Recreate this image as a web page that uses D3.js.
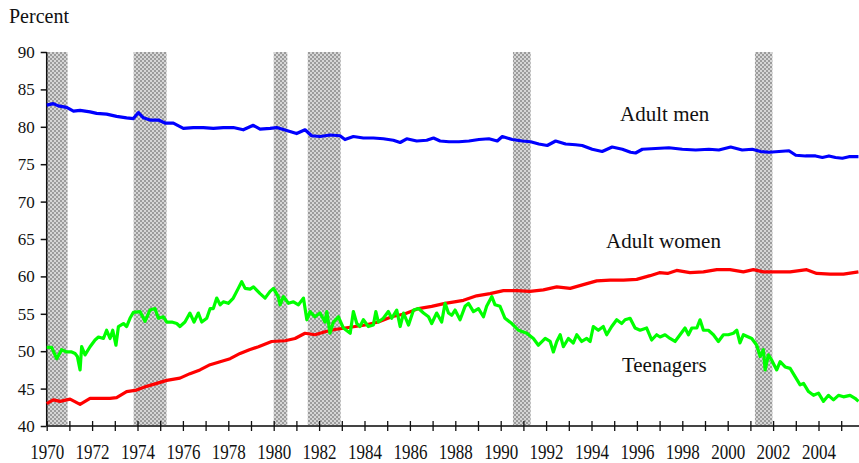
<!DOCTYPE html>
<html lang="en">
<head>
<meta charset="UTF-8">
<title>Labor force participation</title>
<script src="https://cdn.jsdelivr.net/npm/d3@7"></script>
<style>
  body { margin: 0; background: #fff; }
  svg { display: block; font-family: "Liberation Serif", "Times New Roman", serif; }
</style>
</head>
<body>
<div id="chart"></div>
<script>

// recession periods (decimal years)
var recessions = [[1969.92, 1970.92], [1973.83, 1975.28], [1980.0, 1980.6],
                  [1981.5, 1982.95], [1990.54, 1991.32], [2001.2, 2001.97]];

var yTicks = [40, 45, 50, 55, 60, 65, 70, 75, 80, 85, 90];

// [year, percent]
var adultMen = [
  [1970.0, 82.9], [1970.29, 83.1], [1970.51, 82.8], [1970.88, 82.6], [1971.18, 82.1],
  [1971.47, 82.2], [1971.91, 82.0], [1972.2, 81.8], [1972.64, 81.7], [1973.08, 81.4],
  [1973.52, 81.2], [1973.82, 81.1], [1974.04, 81.9], [1974.26, 81.2], [1974.55, 80.9],
  [1974.92, 80.9], [1975.21, 80.5], [1975.58, 80.5], [1976.02, 79.8], [1976.46, 79.9],
  [1976.9, 79.9], [1977.34, 79.8], [1977.78, 79.9], [1978.22, 79.9], [1978.66, 79.6],
  [1979.1, 80.2], [1979.4, 79.7], [1979.84, 79.8], [1980.13, 79.9], [1980.57, 79.5],
  [1981.01, 79.1], [1981.38, 79.6], [1981.67, 78.8], [1982.04, 78.7], [1982.48, 78.9],
  [1982.92, 78.8], [1983.14, 78.3], [1983.51, 78.7], [1983.95, 78.5], [1984.39, 78.5],
  [1984.83, 78.4], [1985.27, 78.2], [1985.57, 77.9], [1985.86, 78.4], [1986.3, 78.1],
  [1986.74, 78.2], [1987.04, 78.5], [1987.33, 78.1], [1987.72, 78.0], [1988.16, 78.0],
  [1988.6, 78.1], [1989.04, 78.3], [1989.48, 78.4], [1989.85, 78.1], [1990.07, 78.7],
  [1990.51, 78.3], [1990.95, 78.1], [1991.32, 78.0], [1991.68, 77.7], [1992.05, 77.5],
  [1992.42, 78.1], [1992.86, 77.7], [1993.3, 77.6], [1993.59, 77.5], [1994.03, 77.0],
  [1994.47, 76.7], [1994.91, 77.3], [1995.36, 77.0], [1995.72, 76.6], [1995.94, 76.5],
  [1996.24, 77.0], [1996.82, 77.1], [1997.41, 77.2], [1998.0, 77.0], [1998.59, 76.9],
  [1999.17, 77.0], [1999.61, 76.9], [2000.13, 77.3], [2000.64, 76.9], [2001.08, 77.0],
  [2001.45, 76.7], [2001.82, 76.6], [2002.26, 76.7], [2002.7, 76.8], [2003.0, 76.2],
  [2003.43, 76.1], [2003.87, 76.1], [2004.17, 75.9], [2004.46, 76.1], [2004.75, 75.9],
  [2005.05, 75.8], [2005.34, 76.0], [2005.76, 76.0]
];

var adultWomen = [
  [1970.0, 43.0], [1970.29, 43.5], [1970.59, 43.3], [1971.03, 43.6], [1971.47, 42.9],
  [1971.91, 43.7], [1972.35, 43.7], [1972.79, 43.7], [1973.08, 43.8], [1973.52, 44.6],
  [1973.96, 44.8], [1974.4, 45.3], [1974.85, 45.7], [1975.29, 46.1], [1975.87, 46.4],
  [1976.31, 47.0], [1976.75, 47.5], [1977.2, 48.2], [1977.64, 48.6], [1978.08, 49.0],
  [1978.52, 49.7], [1978.93, 50.2], [1979.33, 50.6], [1979.91, 51.3], [1980.5, 51.4],
  [1980.94, 51.7], [1981.38, 52.4], [1981.82, 52.2], [1982.26, 52.6], [1982.7, 52.9],
  [1983.15, 53.1], [1983.59, 53.3], [1984.03, 53.5], [1984.61, 53.9], [1985.2, 54.6],
  [1985.79, 55.0], [1986.38, 55.7], [1986.96, 56.0], [1987.55, 56.4], [1987.96, 56.6],
  [1988.36, 56.8], [1988.94, 57.4], [1989.53, 57.7], [1990.12, 58.1], [1990.71, 58.1],
  [1991.29, 58.0], [1991.88, 58.2], [1992.47, 58.6], [1993.06, 58.4], [1993.64, 58.9],
  [1994.23, 59.4], [1994.82, 59.5], [1995.41, 59.5], [1995.99, 59.6], [1996.58, 60.1],
  [1996.99, 60.5], [1997.35, 60.4], [1997.75, 60.8], [1998.34, 60.5], [1998.93, 60.6],
  [1999.52, 60.9], [2000.1, 60.9], [2000.69, 60.6], [2001.13, 60.9], [2001.57, 60.6],
  [2002.16, 60.6], [2002.75, 60.6], [2003.48, 60.9], [2003.92, 60.4], [2004.51, 60.3],
  [2005.1, 60.3], [2005.76, 60.6]
];

var teenagers = [
  [1970.0, 50.5], [1970.22, 50.5], [1970.44, 49.0], [1970.66, 50.2], [1970.88, 49.9],
  [1971.1, 49.9], [1971.25, 49.7], [1971.35, 49.3], [1971.47, 47.5], [1971.54, 50.6],
  [1971.69, 49.5], [1971.91, 50.6], [1972.13, 51.5], [1972.28, 51.9], [1972.5, 51.7],
  [1972.64, 52.8], [1972.79, 51.7], [1972.91, 52.8], [1973.05, 50.8], [1973.16, 53.3],
  [1973.38, 53.7], [1973.52, 53.3], [1973.67, 54.4], [1973.82, 55.2], [1974.11, 55.3],
  [1974.33, 54.0], [1974.55, 55.5], [1974.77, 55.7], [1974.92, 54.4], [1975.14, 54.6],
  [1975.29, 53.9], [1975.51, 53.9], [1975.73, 53.7], [1975.87, 53.3], [1976.09, 53.9],
  [1976.31, 55.1], [1976.49, 53.9], [1976.68, 55.1], [1976.83, 53.9], [1977.05, 54.4],
  [1977.2, 55.7], [1977.34, 55.7], [1977.49, 57.1], [1977.64, 56.2], [1977.78, 56.6],
  [1978.0, 56.4], [1978.22, 57.1], [1978.44, 58.4], [1978.59, 59.3], [1978.74, 58.4],
  [1978.96, 58.3], [1979.11, 58.6], [1979.4, 57.7], [1979.62, 57.1], [1979.84, 58.0],
  [1979.99, 58.4], [1980.2, 57.3], [1980.28, 56.2], [1980.43, 57.3], [1980.65, 56.4],
  [1980.87, 56.6], [1981.09, 56.2], [1981.31, 57.1], [1981.46, 54.2], [1981.6, 55.3],
  [1981.82, 54.6], [1982.04, 55.1], [1982.26, 53.9], [1982.34, 55.3], [1982.48, 52.4],
  [1982.63, 53.9], [1982.85, 54.6], [1983.07, 53.1], [1983.37, 52.4], [1983.51, 55.3],
  [1983.66, 53.7], [1983.8, 53.3], [1983.95, 54.2], [1984.17, 53.3], [1984.39, 53.5],
  [1984.5, 55.3], [1984.61, 53.9], [1984.83, 54.4], [1985.05, 55.3], [1985.2, 54.4],
  [1985.42, 55.5], [1985.57, 53.3], [1985.72, 55.1], [1985.94, 53.5], [1986.16, 55.5],
  [1986.38, 55.7], [1986.6, 55.1], [1986.82, 54.6], [1986.96, 53.7], [1987.18, 55.1],
  [1987.4, 53.9], [1987.55, 56.4], [1987.7, 55.1], [1987.84, 54.8], [1987.99, 55.5],
  [1988.21, 54.2], [1988.43, 56.0], [1988.58, 56.4], [1988.8, 55.3], [1989.02, 55.7],
  [1989.24, 54.6], [1989.38, 56.0], [1989.61, 57.3], [1989.75, 56.2], [1989.97, 56.0],
  [1990.19, 54.4], [1990.49, 53.7], [1990.78, 52.8], [1991.15, 52.4], [1991.44, 51.7],
  [1991.66, 50.8], [1991.96, 51.7], [1992.18, 51.3], [1992.32, 49.9], [1992.47, 51.3],
  [1992.62, 52.2], [1992.76, 50.6], [1992.98, 51.7], [1993.2, 51.1], [1993.35, 52.2],
  [1993.57, 51.3], [1993.79, 51.7], [1993.94, 51.3], [1994.08, 53.3], [1994.3, 52.8],
  [1994.52, 53.3], [1994.67, 52.2], [1994.89, 53.3], [1995.11, 54.2], [1995.33, 53.7],
  [1995.48, 54.2], [1995.7, 54.4], [1995.92, 53.1], [1996.14, 52.8], [1996.43, 53.1],
  [1996.65, 51.5], [1996.87, 52.2], [1997.02, 51.9], [1997.24, 52.2], [1997.46, 51.7],
  [1997.68, 51.3], [1997.9, 52.2], [1998.12, 53.1], [1998.27, 52.2], [1998.42, 53.1],
  [1998.64, 53.1], [1998.78, 54.2], [1998.93, 52.8], [1999.15, 52.8], [1999.37, 52.2],
  [1999.59, 51.3], [1999.81, 52.2], [2000.03, 52.2], [2000.25, 52.4], [2000.4, 52.8],
  [2000.54, 51.1], [2000.69, 52.2], [2000.91, 51.9], [2001.06, 51.7], [2001.28, 50.8],
  [2001.43, 49.3], [2001.57, 50.2], [2001.65, 47.5], [2001.79, 49.5], [2001.94, 48.8],
  [2002.16, 47.5], [2002.31, 48.6], [2002.53, 47.9], [2002.75, 47.7], [2002.97, 46.6],
  [2003.19, 45.5], [2003.34, 45.7], [2003.56, 44.6], [2003.78, 44.1], [2004.0, 44.4],
  [2004.22, 43.3], [2004.44, 44.1], [2004.66, 43.5], [2004.88, 44.1], [2005.1, 43.9],
  [2005.39, 44.1], [2005.61, 43.7], [2005.76, 43.3]
];

var seriesNames = ["Adult men", "Adult women", "Teenagers"];
var seriesColors = ["#0000ff", "#ff0000", "#00ff00"];

// size variables
var w = 859, h = 463;
var plotLeft = 46.7, plotTop = 52, plotBottom = 426;

var svg = d3.select("#chart").append("svg")
  .attr("width", w)
  .attr("height", h);

var x = d3.scaleLinear().domain([1970, 2006]).range([plotLeft, plotLeft + 36 * 22.7]);
var y = d3.scaleLinear().domain([40, 90]).range([plotBottom, plotTop]);

// checkered fill for recession bars
var pat = svg.append("defs").append("pattern")
  .attr("id", "chk")
  .attr("width", 4).attr("height", 4)
  .attr("patternUnits", "userSpaceOnUse");
pat.append("rect").attr("width", 4).attr("height", 4).attr("fill", "#d6d6d6");
pat.append("rect").attr("width", 2).attr("height", 2).attr("fill", "#9c9c9c");
pat.append("rect").attr("x", 2).attr("y", 2).attr("width", 2).attr("height", 2).attr("fill", "#9c9c9c");

svg.selectAll("rect.rec")
  .data(recessions)
  .enter()
  .append("rect")
  .attr("class", "rec")
  .attr("x", function(d) { return x(Math.max(d[0], 1970)) })
  .attr("width", function(d) { return x(d[1]) - x(Math.max(d[0], 1970)) })
  .attr("y", y(90))
  .attr("height", y(40) - y(90))
  .attr("fill", "url(#chk)");

// y axis
var yAxis = svg.append("g")
  .attr("transform", "translate(" + plotLeft + ",0)")
  .call(d3.axisLeft(y).tickValues(yTicks).tickSize(6).tickPadding(6));
yAxis.select(".domain").attr("stroke", "#111").attr("stroke-width", 1.5)
  .attr("d", "M0," + y(90) + "V" + y(40));
yAxis.selectAll(".tick line").attr("stroke", "#111").attr("stroke-width", 1.5);
yAxis.selectAll(".tick text")
  .attr("fill", "#111")
  .style("font-family", "'Liberation Serif', serif")
  .style("font-size", "17px");

// x axis: tick every year, label every other year
var years = d3.range(1970, 2006);
var xAxis = svg.append("g")
  .attr("transform", "translate(0," + plotBottom + ")")
  .call(d3.axisBottom(x).tickValues(years).tickSize(5)
    .tickFormat(function(d) { return d % 2 === 0 ? d : "" }));
xAxis.select(".domain").attr("stroke", "#444").attr("stroke-width", 2)
  .attr("d", "M" + plotLeft + ",0H" + w);
xAxis.selectAll(".tick line").attr("stroke", "#111").attr("stroke-width", 1.3)
  .attr("y1", -5).attr("y2", 5);
xAxis.selectAll(".tick text")
  .attr("fill", "#111")
  .attr("y", 0).attr("dy", 0)
  .attr("transform", "translate(0,33) scale(0.85,1)")
  .style("font-family", "'Liberation Serif', serif")
  .style("font-size", "20px");

// the three series
var line = d3.line()
  .x(function(d) { return x(d[0]) })
  .y(function(d) { return y(d[1]) });

svg.selectAll("path.series")
  .data([adultMen, adultWomen, teenagers])
  .enter()
  .append("path")
  .attr("class", "series")
  .attr("d", line)
  .attr("fill", "none")
  .attr("stroke", function(d, i) { return seriesColors[i] })
  .attr("stroke-width", 3.2)
  .attr("stroke-linejoin", "round");

// series labels
var labelPos = [[1995.26, 121], [1994.64, 248], [1995.34, 372]];
svg.selectAll("text.lab")
  .data(seriesNames)
  .enter()
  .append("text")
  .attr("class", "lab")
  .attr("x", function(d, i) { return x(labelPos[i][0]) })
  .attr("y", function(d, i) { return labelPos[i][1] })
  .attr("fill", "#111")
  .style("font-size", "21px")
  .text(function(d) { return d });

svg.append("text")
  .attr("x", 9)
  .attr("y", 23)
  .attr("fill", "#111")
  .style("font-size", "20px")
  .text("Percent");

</script>
</body>
</html>
